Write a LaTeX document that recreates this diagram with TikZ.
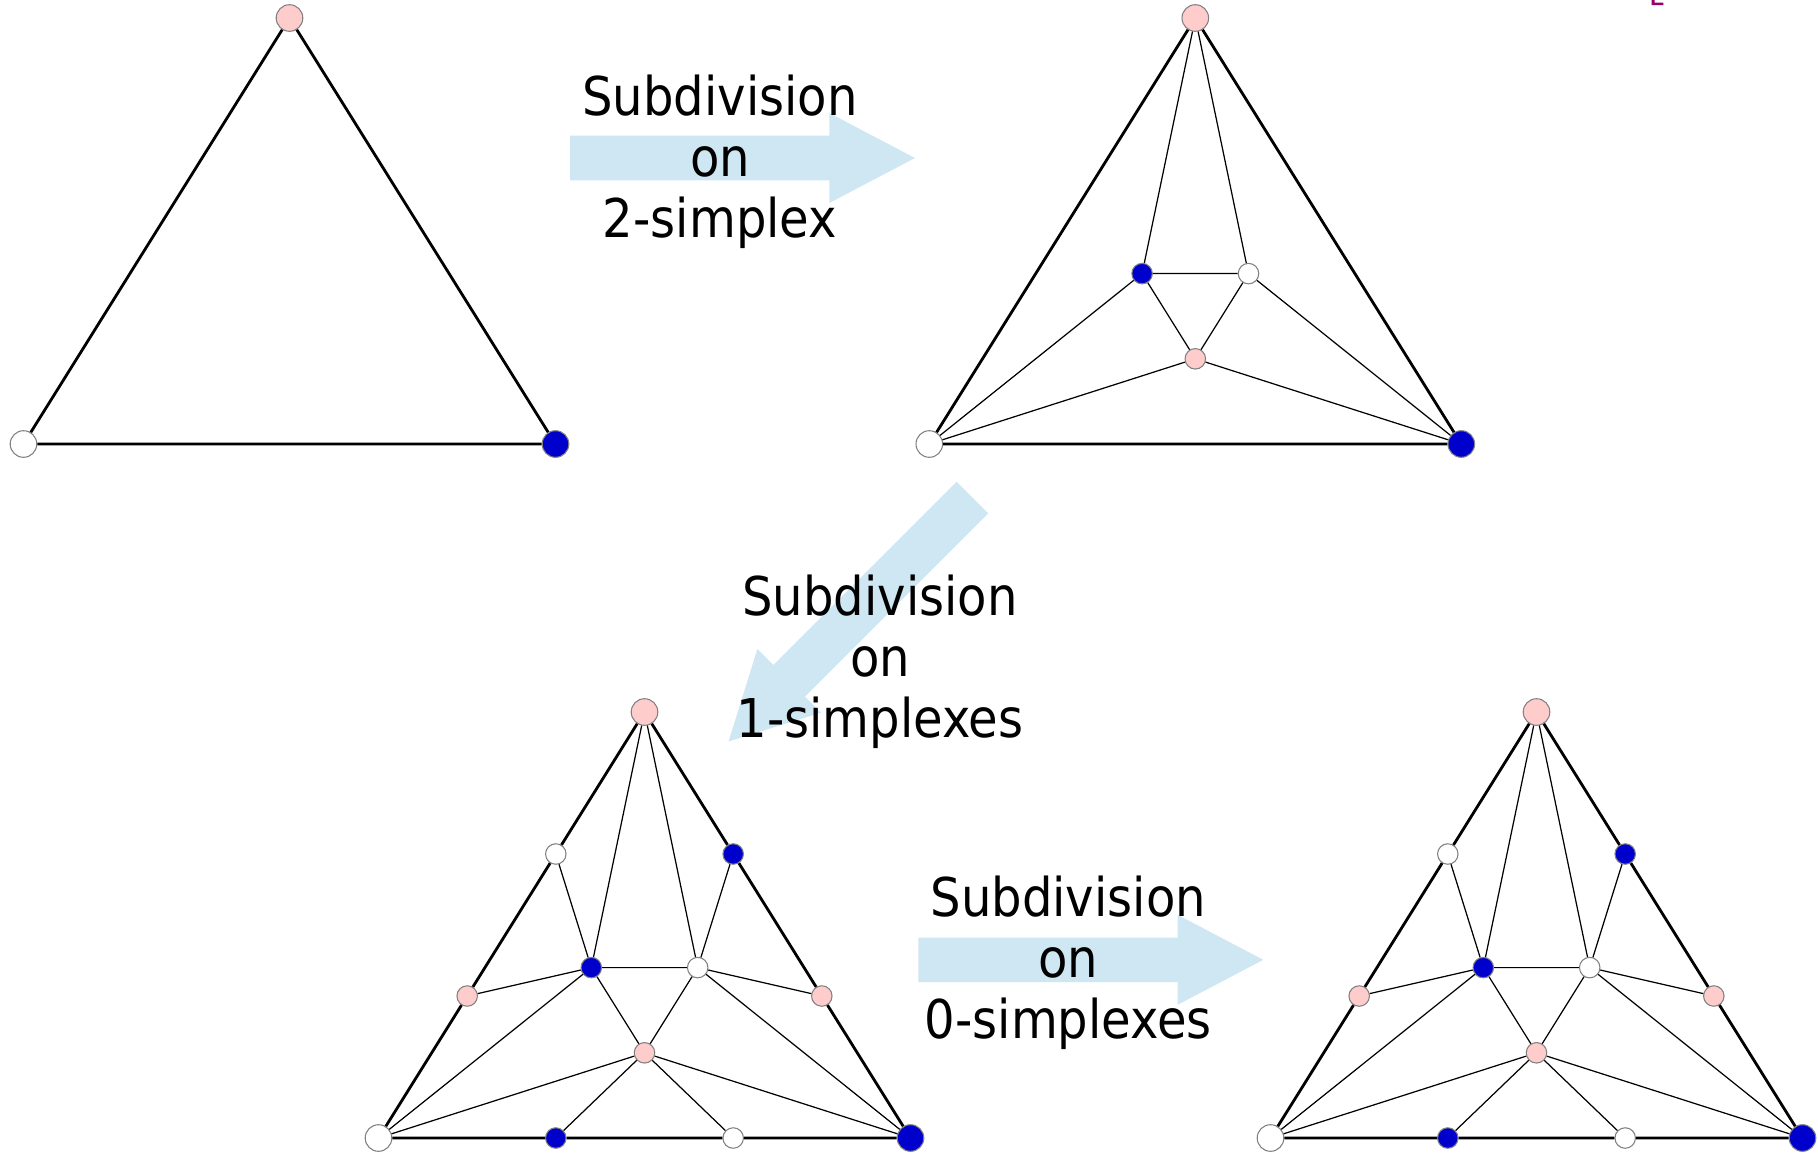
\documentclass[tikz,border=0pt]{standalone}
\usepackage{fontspec}
\setmainfont{DejaVu Sans Condensed}
\definecolor{vpink}{RGB}{255,204,204}
\definecolor{vblue}{RGB}{0,0,204}
\definecolor{flowblue}{RGB}{207,230,243}
\definecolor{markpurple}{RGB}{153,0,102}
\begin{document}
\begin{tikzpicture}[x=1cm, y=1cm, font=\fontsize{15.2}{17.35}\selectfont]
        \tikzset{
            vertex/.style={circle, draw=gray, line width=0.3pt, inner sep=0pt, minimum size=0.266cm},
            midvertex/.style={vertex, minimum size=0.205cm},
            pinkv/.style={fill=vpink},
            bluev/.style={fill=vblue},
            whitev/.style={fill=white},
            thickedge/.style={draw=black, line width=0.8pt},
            thinedge/.style={draw=black, line width=0.35pt},
            flow/.style={fill=flowblue},
            steplabel/.style={align=center, inner sep=0pt}
        }
        \useasboundingbox (0,0) rectangle (18.18,-11.54);

        \fill[markpurple] (16.517,0) -- (16.545,0) -- (16.545,-0.025) -- (16.633,-0.025) -- (16.633,-0.052) -- (16.517,-0.052) -- cycle;

        \begin{scope}[shift={(5.70,-1.58)}]
            \fill[flow] (0,0.223) -- (2.593,0.223) -- (2.593,0.45) -- (3.45,0) -- (2.593,-0.45) -- (2.593,-0.223) -- (0,-0.223) -- cycle;
        \end{scope}
        \begin{scope}[shift={(9.725,-4.975)}, rotate=225]
            \fill[flow] (0,0.223) -- (2.593,0.223) -- (2.593,0.45) -- (3.45,0) -- (2.593,-0.45) -- (2.593,-0.223) -- (0,-0.223) -- cycle;
        \end{scope}
        \begin{scope}[shift={(9.183,-9.598)}]
            \fill[flow] (0,0.223) -- (2.593,0.223) -- (2.593,0.45) -- (3.45,0) -- (2.593,-0.45) -- (2.593,-0.223) -- (0,-0.223) -- cycle;
        \end{scope}

        \node[steplabel] (label-two) at (7.20,-1.614) {Subdivision\\on\\2-simplex};
        \node[steplabel] (label-one) at (8.80,-6.614) {Subdivision\\on\\1-simplexes};
        \node[steplabel] (label-zero) at (10.683,-9.630) {Subdivision\\on\\0-simplexes};

        \begin{scope}[shift={(0.235,-4.44)}]
            \node[vertex, whitev] (a-bl) at (0,0) {};
            \node[vertex, bluev] (a-br) at (5.32,0) {};
            \node[vertex, pinkv] (a-top) at (2.66,4.26) {};
            \draw[thickedge] (a-bl) -- (a-br) -- (a-top) -- (a-bl);
        \end{scope}

        \begin{scope}[shift={(9.293,-4.44)}]
            \node[vertex, whitev] (b-bl) at (0,0) {};
            \node[vertex, bluev] (b-br) at (5.32,0) {};
            \node[vertex, pinkv] (b-top) at (2.66,4.26) {};
            \node[midvertex, bluev] (b-ib) at (2.128,1.704) {};
            \node[midvertex, whitev] (b-iw) at (3.192,1.704) {};
            \node[midvertex, pinkv] (b-ip) at (2.66,0.852) {};
            \draw[thickedge] (b-bl) -- (b-br) -- (b-top) -- (b-bl);
            \draw[thinedge] (b-top) -- (b-ib) -- (b-iw) -- (b-top);
            \draw[thinedge] (b-ib) -- (b-ip) -- (b-iw);
            \draw[thinedge] (b-ib) -- (b-bl) -- (b-ip) -- (b-br) -- (b-iw);
        \end{scope}

        \begin{scope}[shift={(3.785,-11.38)}]
            \node[vertex, whitev] (c-bl) at (0,0) {};
            \node[vertex, bluev] (c-br) at (5.32,0) {};
            \node[vertex, pinkv] (c-top) at (2.66,4.26) {};
            \node[midvertex, whitev] (c-lw) at (1.773,2.84) {};
            \node[midvertex, pinkv] (c-lp) at (0.887,1.42) {};
            \node[midvertex, bluev] (c-rb) at (3.547,2.84) {};
            \node[midvertex, pinkv] (c-rp) at (4.433,1.42) {};
            \node[midvertex, bluev] (c-bb) at (1.773,0) {};
            \node[midvertex, whitev] (c-bw) at (3.547,0) {};
            \node[midvertex, bluev] (c-ib) at (2.128,1.704) {};
            \node[midvertex, whitev] (c-iw) at (3.192,1.704) {};
            \node[midvertex, pinkv] (c-ip) at (2.66,0.852) {};
            \draw[thickedge] (c-top) -- (c-lw) -- (c-lp) -- (c-bl) -- (c-bb) -- (c-bw) -- (c-br) -- (c-rp) -- (c-rb) -- (c-top);
            \draw[thinedge] (c-top) -- (c-ib) -- (c-iw) -- (c-top);
            \draw[thinedge] (c-ib) -- (c-ip) -- (c-iw);
            \draw[thinedge] (c-ib) -- (c-bl) -- (c-ip) -- (c-br) -- (c-iw);
            \draw[thinedge] (c-lw) -- (c-ib) -- (c-lp);
            \draw[thinedge] (c-rb) -- (c-iw) -- (c-rp);
            \draw[thinedge] (c-bb) -- (c-ip) -- (c-bw);
        \end{scope}

        \begin{scope}[shift={(12.705,-11.38)}]
            \node[vertex, whitev] (d-bl) at (0,0) {};
            \node[vertex, bluev] (d-br) at (5.32,0) {};
            \node[vertex, pinkv] (d-top) at (2.66,4.26) {};
            \node[midvertex, whitev] (d-lw) at (1.773,2.84) {};
            \node[midvertex, pinkv] (d-lp) at (0.887,1.42) {};
            \node[midvertex, bluev] (d-rb) at (3.547,2.84) {};
            \node[midvertex, pinkv] (d-rp) at (4.433,1.42) {};
            \node[midvertex, bluev] (d-bb) at (1.773,0) {};
            \node[midvertex, whitev] (d-bw) at (3.547,0) {};
            \node[midvertex, bluev] (d-ib) at (2.128,1.704) {};
            \node[midvertex, whitev] (d-iw) at (3.192,1.704) {};
            \node[midvertex, pinkv] (d-ip) at (2.66,0.852) {};
            \draw[thickedge] (d-top) -- (d-lw) -- (d-lp) -- (d-bl) -- (d-bb) -- (d-bw) -- (d-br) -- (d-rp) -- (d-rb) -- (d-top);
            \draw[thinedge] (d-top) -- (d-ib) -- (d-iw) -- (d-top);
            \draw[thinedge] (d-ib) -- (d-ip) -- (d-iw);
            \draw[thinedge] (d-ib) -- (d-bl) -- (d-ip) -- (d-br) -- (d-iw);
            \draw[thinedge] (d-lw) -- (d-ib) -- (d-lp);
            \draw[thinedge] (d-rb) -- (d-iw) -- (d-rp);
            \draw[thinedge] (d-bb) -- (d-ip) -- (d-bw);
        \end{scope}
    \end{tikzpicture}
\end{document}
